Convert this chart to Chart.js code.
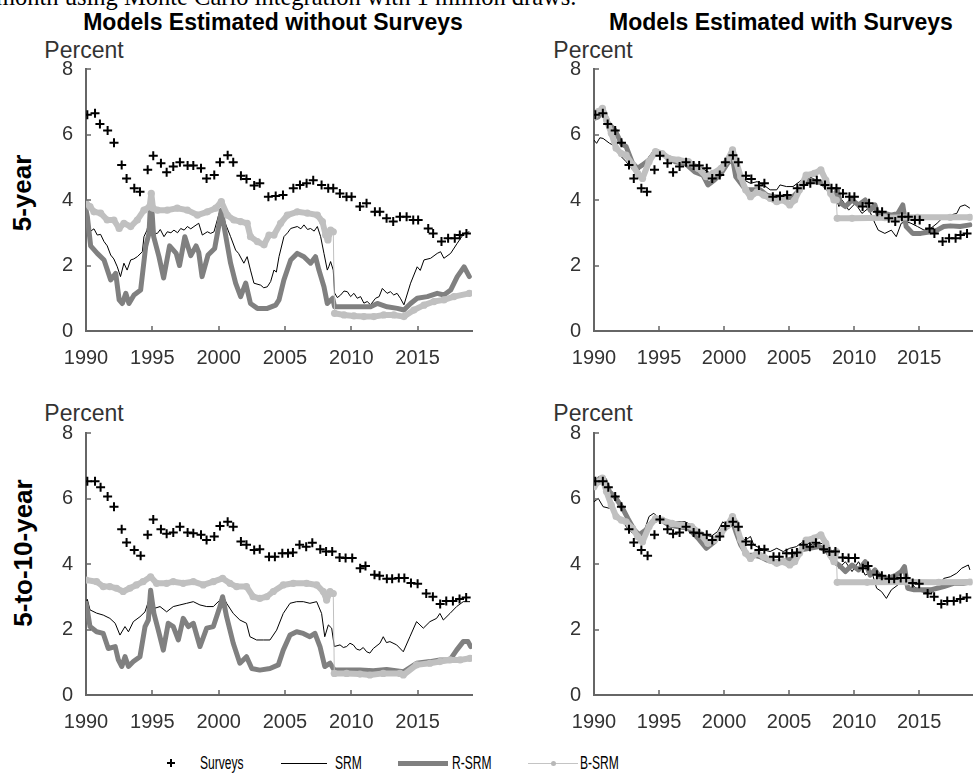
<!DOCTYPE html>
<html>
<head>
<meta charset="utf-8">
<script src="https://cdn.jsdelivr.net/npm/chart.js@4.4.1/dist/chart.umd.min.js"></script>
<style>
  html, body { margin: 0; padding: 0; background: #fff; }
  #fig { position: relative; width: 979px; height: 774px; overflow: hidden;
         font-family: "Liberation Sans", Arial, sans-serif; }
  #fig canvas { position: absolute; }
  .lbl { position: absolute; white-space: nowrap; line-height: 1; }
  .note { font-family: "Liberation Serif", "Times New Roman", serif; font-size: 24.5px; color: #000; left: -4px; top: -15px; }
  .title { font-size: 23px; font-weight: bold; color: #000; transform: translateX(-50%); top: 11px; }
  .pct { font-size: 23px; color: #333; transform: translateX(-50%); }
  .row { font-size: 26px; font-weight: bold; color: #000; transform: translate(-50%, -50%) rotate(-90deg); }
  .leg { font-size: 18px; color: #000; transform: scaleX(0.67); transform-origin: 0 0; top: 753.8px; }
  .sym { position: absolute; }
</style>
</head>
<body>
<div id="fig">
  <div class="lbl note">month using Monte Carlo integration with 1 million draws.</div>
  <div class="lbl title" style="left:273px">Models Estimated without Surveys</div>
  <div class="lbl title" style="left:781px">Models Estimated with Surveys</div>
  <div class="lbl row" style="left:22px; top:193px">5-year</div>
  <div class="lbl row" style="left:23px; top:553px">5-to-10-year</div>
  <div class="lbl pct" style="left:84px; top:39px">Percent</div>
  <div class="lbl pct" style="left:593px; top:39px">Percent</div>
  <div class="lbl pct" style="left:84px; top:402px">Percent</div>
  <div class="lbl pct" style="left:593px; top:402px">Percent</div>

  <canvas id="tl" width="480" height="340" style="left:0; top:40px"></canvas>
  <canvas id="tr" width="489" height="340" style="left:490px; top:40px"></canvas>
  <canvas id="bl" width="480" height="340" style="left:0; top:404px"></canvas>
  <canvas id="br" width="489" height="340" style="left:490px; top:404px"></canvas>

  <!-- legend -->
  <div class="sym" style="left:167px; top:762px; width:8px; height:1.6px; background:#000"></div>
  <div class="sym" style="left:170.2px; top:759px; width:1.6px; height:8px; background:#000"></div>
  <div class="lbl leg" style="left:200px">Surveys</div>
  <div class="sym" style="left:281px; top:762.5px; width:46px; height:1px; background:#000"></div>
  <div class="lbl leg" style="left:335px">SRM</div>
  <div class="sym" style="left:398px; top:760.5px; width:50px; height:5px; background:#808080"></div>
  <div class="lbl leg" style="left:452px">R-SRM</div>
  <div class="sym" style="left:528px; top:762.5px; width:50px; height:1px; background:#c4c4c4"></div>
  <div class="sym" style="left:550.5px; top:760.5px; width:5px; height:5px; border-radius:50%; background:#b8b8b8"></div>
  <div class="lbl leg" style="left:580px">B-SRM</div>
</div>

<script>
// Axis ticks
const xTicks = [1990, 1995, 2000, 2005, 2010, 2015];
const yTicks = [0, 2, 4, 6, 8];

// Surveys, [year, percent]
const surveys5y = [[1990.1,6.6],[1990.68,6.65],[1991.05,6.32],[1991.63,6.12],[1992.11,5.75],[1992.69,5.07],[1993.06,4.66],[1993.64,4.36],[1994.07,4.25],[1994.65,4.92],[1995.07,5.35],[1995.65,5.12],[1996.08,4.85],[1996.58,5.02],[1997.08,5.15],[1997.66,5.05],[1998.09,5.05],[1998.67,4.97],[1999.09,4.66],[1999.67,4.76],[2000.1,5.15],[2000.68,5.37],[2001.1,5.15],[2001.68,4.74],[2002.1,4.64],[2002.68,4.44],[2003.1,4.51],[2003.75,4.1],[2004.3,4.12],[2004.85,4.15],[2005.63,4.36],[2006.13,4.46],[2006.63,4.51],[2007.13,4.6],[2007.76,4.46],[2008.26,4.36],[2008.64,4.36],[2009.14,4.2],[2009.64,4.1],[2010.02,4.1],[2010.65,3.8],[2011.15,3.9],[2011.78,3.64],[2012.15,3.64],[2012.66,3.44],[2013.16,3.34],[2013.67,3.49],[2014.17,3.49],[2014.67,3.39],[2015.04,3.39],[2015.8,3.13],[2016.17,2.98],[2016.8,2.73],[2017.3,2.83],[2017.8,2.83],[2018.18,2.93],[2018.68,2.98]];
const surveys5to10 = [[1990.1,6.53],[1990.68,6.53],[1991.1,6.34],[1991.63,6.06],[1992.11,5.75],[1992.69,5.06],[1993.06,4.66],[1993.64,4.43],[1994.12,4.25],[1994.65,4.89],[1995.07,5.36],[1995.65,5.06],[1996.08,4.92],[1996.58,4.96],[1997.08,5.14],[1997.66,4.96],[1998.09,4.94],[1998.67,4.89],[1999.09,4.73],[1999.67,4.84],[2000.1,5.16],[2000.68,5.29],[2001.1,5.14],[2001.68,4.69],[2002.1,4.59],[2002.68,4.43],[2003.1,4.45],[2003.8,4.22],[2004.24,4.22],[2004.8,4.33],[2005.23,4.33],[2005.6,4.35],[2006.1,4.59],[2006.6,4.53],[2007.06,4.65],[2007.66,4.45],[2008.1,4.38],[2008.56,4.38],[2009.12,4.2],[2009.57,4.18],[2010.07,4.18],[2010.67,3.87],[2011.07,3.94],[2011.75,3.67],[2012.13,3.64],[2012.68,3.55],[2013.08,3.55],[2013.58,3.57],[2014.0,3.57],[2014.5,3.42],[2015.0,3.4],[2015.65,3.1],[2016.15,3.0],[2016.7,2.78],[2017.16,2.87],[2017.66,2.87],[2018.16,2.93],[2018.66,2.98]];

// 5-year, models estimated without surveys
const srm5yNo = [[1990.0,3.35],[1990.1,3.2],[1990.35,3.05],[1990.6,3.12],[1990.85,2.93],[1991.1,2.95],[1991.36,2.73],[1991.6,2.6],[1991.86,2.32],[1992.1,2.2],[1992.36,1.96],[1992.6,1.66],[1992.86,2.07],[1993.1,1.86],[1993.37,2.17],[1993.6,2.2],[1993.87,2.27],[1994.25,2.42],[1994.37,2.88],[1994.6,3.08],[1994.87,3.69],[1994.95,3.95],[1995.1,2.98],[1995.38,2.98],[1995.6,3.1],[1995.88,2.88],[1996.13,3.03],[1996.4,3.0],[1996.63,3.08],[1996.9,3.0],[1997.14,3.13],[1997.4,3.08],[1997.64,3.19],[1997.9,3.12],[1998.14,3.19],[1998.5,3.29],[1998.77,2.93],[1999.15,3.03],[1999.4,2.98],[1999.65,3.03],[2000.0,3.54],[2000.2,3.75],[2000.5,3.29],[2000.9,2.88],[2001.28,2.47],[2001.5,2.37],[2001.9,2.07],[2002.15,2.27],[2002.4,1.86],[2002.66,1.46],[2003.17,1.4],[2003.4,1.32],[2003.67,1.35],[2003.92,1.51],[2004.17,1.86],[2004.35,1.8],[2004.55,2.27],[2004.92,2.88],[2005.2,3.0],[2005.43,3.13],[2005.93,3.19],[2006.2,3.12],[2006.43,3.24],[2006.7,3.1],[2006.93,3.13],[2007.2,3.05],[2007.44,3.19],[2007.69,2.88],[2007.94,2.37],[2008.19,1.86],[2008.3,1.96],[2008.44,2.12],[2008.64,1.86],[2008.74,1.16],[2008.95,1.02],[2009.2,1.1],[2009.45,1.22],[2009.7,1.2],[2009.95,1.05],[2010.2,1.15],[2010.45,1.0],[2010.7,1.05],[2010.95,0.85],[2011.2,0.9],[2011.45,0.8],[2011.83,1.0],[2012.1,1.05],[2012.34,1.3],[2012.7,1.15],[2012.95,1.2],[2013.2,1.1],[2013.45,1.15],[2013.7,1.0],[2013.97,0.8],[2014.47,1.46],[2014.97,1.96],[2015.2,1.85],[2015.48,2.17],[2015.98,2.22],[2016.48,2.37],[2016.73,2.42],[2016.98,2.22],[2017.49,2.37],[2017.99,2.68],[2018.5,2.98],[2018.9,3.03]];
const rsrm5yNo = [[1990.0,3.7],[1990.1,3.5],[1990.35,2.6],[1990.85,2.37],[1991.36,2.17],[1991.86,1.56],[1992.24,1.76],[1992.5,0.95],[1992.74,0.84],[1993.0,1.15],[1993.24,0.84],[1993.62,1.1],[1994.12,1.25],[1994.5,2.58],[1994.75,2.98],[1994.9,4.15],[1995.1,2.88],[1995.5,2.27],[1995.85,1.62],[1996.3,2.6],[1996.8,2.37],[1997.05,2.0],[1997.45,2.88],[1997.9,2.3],[1998.3,2.6],[1998.5,2.4],[1998.75,1.66],[1999.2,2.32],[1999.7,2.52],[2000.0,3.19],[2000.2,3.69],[2000.5,2.98],[2000.9,2.07],[2001.28,1.46],[2001.66,1.05],[2002.04,1.46],[2002.4,0.84],[2002.92,0.69],[2003.67,0.69],[2004.3,0.79],[2004.55,0.95],[2004.92,1.56],[2005.43,2.17],[2005.93,2.37],[2006.43,2.27],[2006.93,2.07],[2007.3,2.27],[2007.56,1.86],[2007.94,1.35],[2008.19,0.84],[2008.6,1.0],[2008.74,0.74],[2009.2,0.74],[2009.95,0.74],[2010.7,0.74],[2011.45,0.74],[2011.96,0.84],[2012.7,0.74],[2013.47,0.69],[2013.97,0.64],[2014.47,0.84],[2014.97,1.0],[2015.73,1.05],[2016.48,1.15],[2016.98,1.1],[2017.49,1.25],[2017.99,1.66],[2018.5,1.96],[2018.9,1.66]];
const bsrm5yNo = [[1990.0,3.9],[1990.3,3.8],[1990.6,3.64],[1991.1,3.6],[1991.6,3.39],[1992.1,3.39],[1992.5,3.13],[1992.86,3.29],[1993.37,3.19],[1993.87,3.39],[1994.37,3.69],[1994.8,3.8],[1994.92,4.2],[1995.05,3.75],[1995.38,3.69],[1996.13,3.69],[1996.88,3.75],[1997.64,3.69],[1998.4,3.54],[1999.15,3.64],[1999.78,3.75],[2000.2,3.95],[2000.65,3.54],[2001.15,3.39],[2001.66,3.34],[2002.15,3.29],[2002.4,2.88],[2002.92,2.73],[2003.42,2.63],[2003.8,2.93],[2004.17,2.93],[2004.67,3.29],[2005.18,3.54],[2005.93,3.64],[2006.68,3.6],[2007.44,3.54],[2007.82,3.34],[2008.07,2.93],[2008.24,2.78],[2008.44,3.08],[2008.64,3.03],[2008.74,0.54],[2009.45,0.49],[2010.2,0.46],[2010.95,0.44],[2011.7,0.44],[2012.45,0.49],[2013.2,0.49],[2013.97,0.44],[2014.72,0.64],[2015.48,0.79],[2016.23,0.9],[2016.98,0.95],[2017.74,1.05],[2018.9,1.15]];

// 5-year, models estimated with surveys
const srm5yWith = [[1990.0,5.83],[1990.2,5.73],[1990.45,5.9],[1990.7,5.88],[1991.2,5.73],[1991.7,5.63],[1992.1,5.32],[1992.47,5.17],[1992.97,4.92],[1993.47,4.92],[1993.85,5.07],[1994.23,5.32],[1994.6,5.52],[1995.0,5.52],[1995.5,5.37],[1996.0,5.22],[1996.5,5.22],[1997.0,5.22],[1997.5,5.12],[1998.0,5.07],[1998.5,4.92],[1999.0,4.81],[1999.5,4.81],[2000.0,5.12],[2000.5,5.32],[2000.9,5.17],[2001.28,4.81],[2001.53,4.61],[2002.03,4.51],[2002.54,4.56],[2003.04,4.46],[2003.54,4.31],[2004.05,4.31],[2004.3,4.46],[2004.8,4.41],[2005.3,4.41],[2005.8,4.56],[2006.3,4.76],[2007.07,4.61],[2007.57,4.56],[2008.08,4.31],[2008.58,4.1],[2008.83,3.8],[2009.08,4.0],[2009.58,3.69],[2010.09,3.9],[2010.6,3.59],[2011.1,3.75],[2011.6,3.29],[2011.85,3.08],[2012.36,2.98],[2012.86,3.08],[2013.24,2.88],[2013.62,3.29],[2014.0,3.34],[2014.37,3.29],[2014.87,3.19],[2015.38,3.08],[2015.88,3.13],[2016.38,3.29],[2016.89,3.49],[2017.39,3.54],[2017.89,3.59],[2018.15,3.8],[2018.52,3.85],[2018.9,3.75]];
const rsrm5yWith = [[1990.0,6.49],[1990.33,6.54],[1990.7,6.75],[1991.1,6.34],[1991.6,6.14],[1992.1,5.73],[1992.47,5.63],[1992.97,5.12],[1993.35,4.97],[1993.73,5.07],[1994.23,5.22],[1994.73,5.48],[1995.24,5.42],[1995.74,5.27],[1996.24,5.17],[1997.0,5.12],[1997.75,4.86],[1998.38,4.76],[1998.76,4.46],[1999.26,4.61],[1999.77,4.81],[2000.27,5.12],[2000.65,5.27],[2000.9,4.71],[2001.28,4.51],[2001.66,4.31],[2002.16,4.31],[2002.79,4.31],[2003.29,4.15],[2003.8,4.1],[2004.3,4.1],[2004.8,4.05],[2005.3,4.1],[2005.8,4.31],[2006.31,4.61],[2007.07,4.56],[2007.57,4.51],[2008.08,4.31],[2008.45,4.1],[2008.7,4.31],[2008.96,3.9],[2009.33,3.8],[2009.84,4.0],[2010.34,3.85],[2010.85,4.0],[2011.23,3.69],[2011.6,3.85],[2011.85,3.54],[2012.36,3.59],[2012.86,3.54],[2013.36,3.59],[2013.74,3.85],[2014.0,3.19],[2014.5,2.98],[2015.13,2.98],[2015.88,3.03],[2016.38,3.08],[2016.89,3.19],[2017.39,3.21],[2018.15,3.19],[2018.9,3.24]];
const bsrm5yWith = [[1990.0,6.54],[1990.33,6.7],[1990.65,6.8],[1990.96,6.44],[1991.33,6.04],[1991.7,5.58],[1992.1,5.42],[1992.47,5.37],[1992.97,5.07],[1993.35,4.81],[1993.73,4.66],[1994.23,5.17],[1994.73,5.48],[1995.24,5.42],[1995.74,5.27],[1996.5,5.22],[1997.25,5.17],[1998.0,4.97],[1998.63,4.71],[1999.14,4.81],[1999.77,4.97],[2000.27,5.22],[2000.65,5.53],[2000.9,5.22],[2001.28,4.71],[2001.66,4.31],[2002.03,4.1],[2002.54,4.25],[2003.04,4.15],[2003.54,4.05],[2004.05,3.95],[2004.55,4.0],[2005.05,3.85],[2005.43,4.0],[2005.8,4.31],[2006.31,4.76],[2006.94,4.81],[2007.44,4.92],[2007.82,4.61],[2008.2,4.2],[2008.45,4.0],[2008.63,4.0],[2008.7,3.44],[2009.84,3.44],[2012.36,3.46],[2014.87,3.47],[2017.39,3.47],[2018.9,3.47]];

// 5-to-10-year, models estimated without surveys
const srm510No = [[1990.0,2.8],[1990.1,2.92],[1990.3,2.6],[1990.8,2.5],[1991.3,2.44],[1991.8,2.34],[1992.2,2.19],[1992.56,1.83],[1992.94,2.09],[1993.2,1.93],[1993.57,2.24],[1994.07,2.39],[1994.45,2.54],[1994.82,3.0],[1994.92,3.1],[1995.2,2.65],[1995.58,2.7],[1996.08,2.54],[1996.58,2.7],[1997.08,2.75],[1997.59,2.8],[1998.09,2.85],[1998.59,2.75],[1999.1,2.7],[1999.6,2.7],[2000.1,2.9],[2000.3,3.05],[2000.6,2.8],[2001.1,2.49],[2001.6,2.29],[2002.1,2.19],[2002.36,1.78],[2002.86,1.68],[2003.37,1.68],[2003.87,1.68],[2004.37,1.98],[2004.87,2.49],[2005.38,2.8],[2005.88,2.85],[2006.38,2.85],[2006.88,2.8],[2007.39,2.85],[2007.76,2.49],[2008.0,1.78],[2008.27,2.14],[2008.52,2.04],[2008.72,1.48],[2009.15,1.53],[2009.4,1.45],[2009.65,1.48],[2009.9,1.58],[2010.15,1.53],[2010.4,1.4],[2010.65,1.37],[2010.9,1.45],[2011.16,1.32],[2011.4,1.28],[2011.66,1.42],[2012.16,1.58],[2012.41,1.78],[2012.65,1.6],[2012.91,1.63],[2013.42,1.53],[2013.92,1.32],[2014.42,1.78],[2014.92,2.24],[2015.43,2.04],[2015.93,2.24],[2016.43,2.34],[2016.68,2.49],[2016.94,2.29],[2017.44,2.49],[2017.94,2.7],[2018.44,2.85],[2018.95,2.85]];
const rsrm510No = [[1990.0,2.8],[1990.1,2.6],[1990.3,2.09],[1990.8,1.93],[1991.3,1.88],[1991.68,1.42],[1992.2,1.48],[1992.44,1.07],[1992.7,0.87],[1992.94,1.17],[1993.2,0.87],[1993.57,1.02],[1994.07,1.17],[1994.45,2.09],[1994.7,2.29],[1994.87,3.2],[1995.12,2.49],[1995.45,1.98],[1995.83,1.37],[1996.2,2.19],[1996.58,2.09],[1996.96,1.68],[1997.33,2.34],[1997.71,2.09],[1998.09,2.19],[1998.59,1.48],[1999.1,2.04],[1999.6,2.09],[2000.1,2.7],[2000.3,3.0],[2000.6,2.39],[2001.1,1.58],[2001.6,0.97],[2002.1,1.17],[2002.5,0.81],[2003.1,0.76],[2003.87,0.81],[2004.5,0.92],[2004.87,1.37],[2005.38,1.83],[2005.88,1.93],[2006.38,1.88],[2006.88,1.78],[2007.26,1.88],[2007.64,1.48],[2008.0,0.87],[2008.4,0.97],[2008.72,0.76],[2009.65,0.76],[2010.65,0.76],[2011.66,0.74],[2012.66,0.78],[2013.92,0.71],[2014.92,0.97],[2015.93,1.02],[2016.68,1.07],[2017.44,1.07],[2017.94,1.37],[2018.44,1.63],[2018.8,1.63],[2019.0,1.48]];
const bsrm510No = [[1990.0,3.51],[1990.8,3.46],[1991.3,3.31],[1991.8,3.31],[1992.3,3.26],[1992.8,3.16],[1993.3,3.26],[1993.8,3.36],[1994.3,3.46],[1994.87,3.61],[1995.32,3.41],[1996.08,3.41],[1996.58,3.46],[1997.33,3.41],[1998.09,3.46],[1998.84,3.36],[1999.6,3.46],[2000.3,3.56],[2000.85,3.41],[2001.35,3.31],[2002.1,3.31],[2002.6,3.0],[2003.1,2.95],[2003.62,3.0],[2004.12,3.16],[2004.87,3.36],[2005.63,3.41],[2006.63,3.41],[2007.39,3.36],[2007.89,3.16],[2008.14,2.9],[2008.4,3.16],[2008.64,3.1],[2008.72,0.66],[2009.65,0.66],[2010.65,0.64],[2011.4,0.61],[2012.41,0.66],[2013.67,0.66],[2013.92,0.61],[2014.92,0.92],[2015.93,0.97],[2016.68,1.02],[2017.44,1.07],[2018.2,1.07],[2018.95,1.12]];

// 5-to-10-year, models estimated with surveys
const srm510With = [[1990.0,5.9],[1990.33,6.0],[1990.7,5.75],[1991.2,5.7],[1991.7,5.55],[1992.1,5.39],[1992.47,5.14],[1992.97,4.94],[1993.47,4.89],[1993.85,4.99],[1994.23,5.45],[1994.6,5.55],[1995.0,5.39],[1995.5,5.24],[1996.24,5.29],[1997.0,5.29],[1997.75,5.14],[1998.5,4.89],[1999.0,4.84],[1999.5,4.99],[1999.9,5.29],[2000.27,5.14],[2000.9,5.19],[2001.28,4.79],[2001.66,4.73],[2002.03,4.84],[2002.28,4.58],[2003.04,4.43],[2003.54,4.38],[2004.05,4.48],[2004.55,4.38],[2005.05,4.48],[2005.56,4.53],[2006.06,4.68],[2006.81,4.58],[2007.57,4.63],[2008.08,4.38],[2008.58,4.17],[2008.83,3.87],[2009.33,4.07],[2009.84,3.77],[2010.34,4.07],[2010.85,3.66],[2011.35,3.77],[2011.73,3.26],[2012.1,3.16],[2012.48,2.95],[2012.86,3.21],[2013.36,3.36],[2013.87,3.56],[2014.25,3.51],[2014.62,3.31],[2015.13,3.16],[2015.88,3.1],[2016.38,3.26],[2016.89,3.56],[2017.39,3.61],[2017.89,3.72],[2018.27,3.87],[2018.78,3.97],[2018.9,3.82]];
const rsrm510With = [[1990.0,6.41],[1990.45,6.62],[1990.83,6.56],[1991.2,6.21],[1991.7,6.0],[1992.2,5.7],[1992.6,5.39],[1993.1,5.04],[1993.47,4.89],[1993.98,5.04],[1994.48,5.29],[1995.0,5.39],[1995.74,5.19],[1996.5,5.14],[1997.25,5.09],[1998.0,4.79],[1998.63,4.48],[1999.26,4.68],[1999.9,5.04],[2000.27,5.14],[2000.65,5.29],[2000.9,4.99],[2001.28,4.58],[2001.78,4.27],[2002.28,4.27],[2002.79,4.22],[2003.29,4.12],[2003.8,4.07],[2004.55,4.07],[2005.3,4.17],[2005.93,4.43],[2006.56,4.48],[2007.32,4.53],[2007.95,4.38],[2008.45,4.07],[2008.83,3.97],[2009.33,3.77],[2009.84,3.97],[2010.34,3.82],[2010.85,4.07],[2011.23,3.66],[2011.6,3.82],[2011.98,3.61],[2012.61,3.56],[2013.24,3.66],[2013.62,3.77],[2013.87,3.92],[2014.12,3.26],[2014.62,3.21],[2015.13,3.21],[2015.88,3.21],[2016.38,3.26],[2016.89,3.31],[2017.64,3.41],[2018.4,3.41],[2018.9,3.44]];
const bsrm510With = [[1990.0,6.36],[1990.33,6.51],[1990.65,6.62],[1990.96,6.21],[1991.33,5.8],[1991.7,5.45],[1992.1,5.34],[1992.47,5.29],[1992.97,5.09],[1993.35,4.84],[1993.73,4.68],[1994.23,5.14],[1994.73,5.39],[1995.24,5.34],[1996.0,5.24],[1996.75,5.19],[1997.5,5.14],[1998.26,4.89],[1998.76,4.63],[1999.26,4.73],[1999.77,4.94],[2000.27,5.19],[2000.65,5.45],[2000.9,5.24],[2001.28,4.73],[2001.66,4.33],[2002.03,4.17],[2002.54,4.33],[2003.04,4.22],[2003.54,4.12],[2004.05,4.02],[2004.55,4.07],[2005.05,3.97],[2005.43,4.07],[2005.8,4.33],[2006.31,4.73],[2006.94,4.79],[2007.44,4.89],[2007.82,4.63],[2008.2,4.27],[2008.45,4.07],[2008.63,4.38],[2008.7,3.44],[2011.0,3.44],[2014.0,3.45],[2016.5,3.44],[2018.9,3.45]];

// Estilos
const AXIS_COLOR = '#666';
const TICK_COLOR = '#333';
const DARK = '#808080';
const LIGHT = '#c0c0c0';
const TICK_LEN = 5;
const FONT = { family: '"Liberation Sans", Arial, sans-serif', size: 20 };

const pts = pairs => pairs.map(([x, y]) => ({ x, y }));

// Salto vertical (cambio de regimen en 2008): se dibuja con linea fina
const isJump = c => Math.abs(c.p1.parsed.y - c.p0.parsed.y) > 0.5 && (c.p1.parsed.x - c.p0.parsed.x) < 0.12;

// Ticks hacia adentro, como en MATLAB
const innerTicks = {
  id: 'innerTicks',
  afterDraw(chart) {
    const { ctx, chartArea: a, scales: { x, y } } = chart;
    ctx.save();
    ctx.strokeStyle = AXIS_COLOR;
    ctx.lineWidth = 1.5;
    ctx.beginPath();
    x.ticks.forEach(t => {
      const px = Math.round(x.getPixelForValue(t.value));
      ctx.moveTo(px, a.bottom);
      ctx.lineTo(px, a.bottom - TICK_LEN);
    });
    y.ticks.forEach(t => {
      const py = Math.round(y.getPixelForValue(t.value));
      ctx.moveTo(a.left, py);
      ctx.lineTo(a.left + TICK_LEN, py);
    });
    ctx.stroke();
    ctx.restore();
  }
};

function drawPanel(id, surveys, srm, rsrm, bsrm, yAxisWidth, padRight) {
  return new Chart(document.getElementById(id), {
    type: 'line',
    data: {
      datasets: [
        { label: 'Surveys', data: pts(surveys), showLine: false, pointStyle: 'cross',
          pointRadius: 4.5, pointBorderWidth: 2, pointBorderColor: '#000', order: 0 },
        { label: 'B-SRM', data: pts(bsrm), borderColor: LIGHT, borderWidth: 6,
          pointRadius: 3.6, pointBackgroundColor: LIGHT, pointBorderWidth: 0,
          borderJoinStyle: 'round', borderCapStyle: 'round',
          segment: { borderWidth: c => isJump(c) ? 1 : undefined }, order: 1 },
        { label: 'R-SRM', data: pts(rsrm), borderColor: DARK, borderWidth: 5, pointRadius: 0,
          borderJoinStyle: 'round', borderCapStyle: 'round', order: 2 },
        { label: 'SRM', data: pts(srm), borderColor: '#000', borderWidth: 1, pointRadius: 0, order: 3 }
      ]
    },
    options: {
      responsive: false,
      animation: false,
      events: [],
      devicePixelRatio: 1,
      layout: { padding: { top: 29, right: padRight, bottom: 0, left: 0 } },
      plugins: { legend: { display: false }, tooltip: { enabled: false } },
      scales: {
        x: {
          type: 'linear', min: 1990, max: 2019.1,
          afterBuildTicks: s => { s.ticks = xTicks.map(v => ({ value: v })); },
          afterFit: s => { s.height = 49; },
          ticks: { font: FONT, color: TICK_COLOR, padding: 15, maxRotation: 0, autoSkip: false,
                   callback: v => String(v) },
          grid: { display: false, drawTicks: false },
          border: { display: true, color: AXIS_COLOR, width: 2 }
        },
        y: {
          type: 'linear', min: 0, max: 8,
          afterBuildTicks: s => { s.ticks = yTicks.map(v => ({ value: v })); },
          afterFit: s => { s.width = yAxisWidth; },
          ticks: { font: FONT, color: TICK_COLOR, padding: 13, callback: v => String(v) },
          grid: { display: false, drawTicks: false },
          border: { display: true, color: AXIS_COLOR, width: 2 }
        }
      }
    },
    plugins: [innerTicks]
  });
}

drawPanel('tl', surveys5y, srm5yNo, rsrm5yNo, bsrm5yNo, 86, 8);
drawPanel('tr', surveys5y, srm5yWith, rsrm5yWith, bsrm5yWith, 104, 0);
drawPanel('bl', surveys5to10, srm510No, rsrm510No, bsrm510No, 86, 8);
drawPanel('br', surveys5to10, srm510With, rsrm510With, bsrm510With, 104, 0);
</script>
</body>
</html>
